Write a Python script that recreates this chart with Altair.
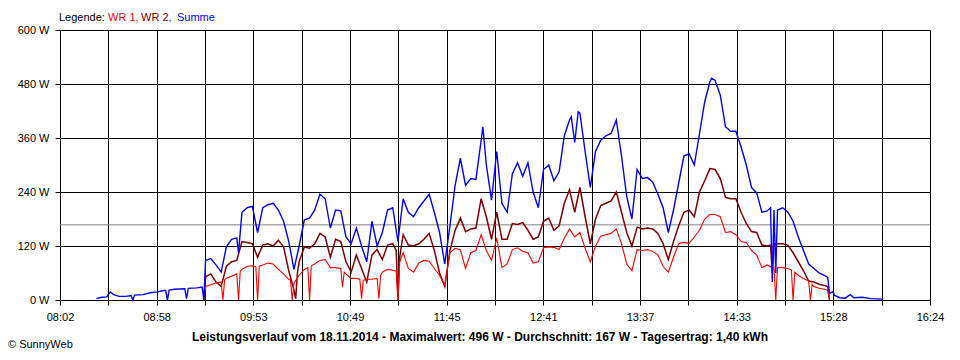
import altair as alt
import pandas as pd

# ---------------- data ----------------
summe_times = ["08:23","08:26","08:29","08:31","08:33","08:36","08:40","08:43","08:44","08:45",
    "08:50","08:54","08:58","09:02","09:03","09:04","09:05","09:08","09:14","09:15","09:16","09:21",
    "09:24","09:25","09:26","09:29","09:32","09:35","09:38","09:41","09:44","09:45","09:47","09:50",
    "09:53","09:56","09:59","10:02","10:05","10:08","10:11","10:14","10:17","10:20","10:23","10:26",
    "10:29","10:32","10:35","10:38","10:41","10:44","10:47","10:50","10:53","10:56","10:59","11:02",
    "11:05","11:08","11:11","11:14","11:17","11:20","11:23","11:26","11:29","11:32","11:35","11:38",
    "11:41","11:44","11:47","11:50","11:53","11:56","11:59","12:02","12:05","12:06","12:08","12:11",
    "12:14","12:17","12:20","12:23","12:26","12:29","12:32","12:35","12:38","12:41","12:44","12:47",
    "12:50","12:53","12:56","12:57","12:59","13:01","13:02","13:05","13:08","13:11","13:14","13:17",
    "13:20","13:23","13:26","13:29","13:32","13:35","13:38","13:41","13:44","13:47","13:50","13:53",
    "13:56","13:59","14:02","14:05","14:08","14:11","14:14","14:17","14:18","14:20","14:23","14:26",
    "14:29","14:32","14:35","14:38","14:41","14:44","14:47","14:50","14:52","14:53","14:54","14:55",
    "14:56","14:59","15:02","15:05","15:08","15:11","15:14","15:17","15:20","15:23","15:25","15:26",
    "15:28","15:29","15:32","15:35","15:38","15:40","15:45","15:50","15:57"]
summe_values = [3,6,7,18,12,8,8,10,0,11,
    12,16,18,21,21,0,22,24,25,3,26,27,
    29,0,88,92,78,62,118,135,138,105,195,205,
    208,150,205,212,215,200,175,130,68,120,178,182,
    200,235,225,160,200,198,140,125,160,120,85,175,
    120,150,200,205,130,225,195,185,205,220,235,195,
    150,80,165,255,315,255,270,268,355,385,300,222,
    330,215,195,280,305,275,305,240,205,290,300,265,
    285,365,400,407,350,418,415,330,250,330,355,365,
    370,400,320,230,180,290,270,272,262,235,205,150,
    200,260,320,325,300,370,440,485,493,488,455,385,
    375,375,340,300,250,238,195,198,205,40,200,60,
    200,205,195,175,140,110,80,70,60,55,50,15,
    18,10,5,4,12,5,6,3,2]

wr1_times = ["09:25","09:26","09:29","09:32","09:35","09:36","09:37","09:38","09:41","09:44",
    "09:45","09:46","09:47","09:50","09:53","09:55","09:56","09:57","09:59","10:02","10:05","10:08",
    "10:11","10:14","10:15","10:16","10:17","10:20","10:23","10:25","10:26","10:27","10:29","10:32",
    "10:35","10:38","10:41","10:44","10:45","10:46","10:47","10:50","10:53","10:55","10:56","10:57",
    "10:59","11:02","11:05","11:06","11:07","11:08","11:11","11:14","11:16","11:17","11:18","11:20",
    "11:23","11:26","11:29","11:32","11:35","11:38","11:41","11:44","11:47","11:50","11:53","11:56",
    "11:59","12:02","12:05","12:08","12:11","12:14","12:17","12:20","12:23","12:26","12:29","12:32",
    "12:35","12:38","12:41","12:44","12:47","12:50","12:53","12:56","12:59","13:02","13:05","13:08",
    "13:11","13:14","13:17","13:20","13:23","13:26","13:29","13:32","13:35","13:38","13:41","13:44",
    "13:47","13:50","13:53","13:56","13:59","14:02","14:05","14:08","14:11","14:14","14:17","14:20",
    "14:23","14:26","14:29","14:32","14:35","14:38","14:41","14:44","14:47","14:50","14:53","14:54",
    "14:55","14:56","14:59","15:02","15:04","15:05","15:06","15:08","15:11","15:14","15:15","15:16",
    "15:17","15:20","15:23","15:25","15:26"]
wr1_values = [0,30,34,38,40,0,45,48,53,58,
    0,64,68,75,76,74,0,75,78,82,80,68,
    58,46,44,0,38,55,68,72,0,76,80,88,
    90,72,72,70,29,62,58,48,48,46,3,44,
    46,46,48,3,55,62,68,66,64,0,85,105,
    70,62,82,88,86,70,55,32,105,115,112,70,
    105,110,145,110,88,138,72,80,112,116,108,105,
    82,85,116,118,117,112,137,158,140,150,115,85,
    120,142,145,148,158,125,80,65,112,110,112,108,
    100,75,62,95,125,128,126,140,155,180,190,190,
    185,150,152,145,130,128,110,100,72,78,72,72,
    0,72,72,70,67,0,62,55,48,42,0,35,
    30,26,24,22,0]

wr2_times = ["09:25","09:26","09:29","09:32","09:35","09:38","09:41","09:44","09:47","09:50",
    "09:53","09:56","09:59","10:02","10:05","10:08","10:11","10:14","10:17","10:18","10:19","10:20",
    "10:23","10:26","10:29","10:32","10:35","10:38","10:41","10:44","10:47","10:50","10:53","10:56",
    "10:59","11:02","11:05","11:08","11:11","11:14","11:16","11:17","11:18","11:20","11:23","11:26",
    "11:29","11:32","11:35","11:38","11:41","11:44","11:47","11:50","11:53","11:56","11:59","12:02",
    "12:05","12:08","12:11","12:14","12:17","12:20","12:23","12:26","12:29","12:32","12:35","12:38",
    "12:41","12:44","12:47","12:50","12:53","12:56","12:59","13:02","13:05","13:08","13:11","13:14",
    "13:17","13:20","13:23","13:26","13:29","13:32","13:35","13:38","13:41","13:44","13:47","13:50",
    "13:53","13:56","13:59","14:02","14:05","14:08","14:11","14:14","14:17","14:20","14:23","14:26",
    "14:29","14:32","14:35","14:38","14:41","14:44","14:47","14:50","14:52","14:53","14:54","14:56",
    "14:59","15:02","15:05","15:08","15:11","15:14","15:17","15:20","15:23","15:25","15:26"]
wr2_values = [0,52,58,40,30,75,85,88,130,128,
    125,95,122,125,120,133,118,65,22,3,60,85,
    118,115,125,148,140,95,135,130,85,62,100,70,
    40,100,112,90,122,125,110,5,95,145,122,120,
    125,135,148,110,60,30,110,155,182,152,158,160,
    225,185,135,195,135,135,170,168,172,155,135,140,
    175,182,155,165,215,245,195,250,185,125,180,210,
    215,220,240,195,150,120,162,158,160,158,148,125,
    90,130,165,195,200,185,240,265,292,290,270,228,
    225,225,195,170,152,150,122,120,122,60,125,125,
    125,122,105,85,65,42,40,35,32,30,0]

series_names = ["WR 1", "WR 2", "Summe"]
series_colors = ["#ff0000", "#800000", "#0000ff"]
y_ticks = [0, 120, 240, 360, 480, 600]
x_tick_labels = ["08:02", "08:58", "09:53", "10:49", "11:45", "12:41", "13:37", "14:33", "15:28", "16:24"]
average_w = 167
legend_title = "Legende:"
chart_title = ("Leistungsverlauf vom 18.11.2014 - Maximalwert: 496 W - Durchschnitt: 167 W"
               " - Tagesertrag: 1,40 kWh")
copyright_text = "\u00a9 SunnyWeb"

FONT = "Liberation Sans"


def to_min(s):
    p = s.split(":")
    return int(p[0]) * 60 + int(p[1])


def frame(times, values):
    return pd.DataFrame({"t": [to_min(s) for s in times], "w": values})


x0 = to_min(x_tick_labels[0])
x1 = to_min(x_tick_labels[-1])
n_grid = 2 * (len(x_tick_labels) - 1)
step = (x1 - x0) / n_grid
grid_vals = [x0 + k * step for k in range(n_grid + 1)]
lab_list = [x_tick_labels[k // 2] if k % 2 == 0 else "" for k in range(n_grid + 1)]
label_expr = "[" + ",".join("'%s'" % l for l in lab_list) + "][round((datum.value-%d)/%.6f)]" % (x0, step)

x_enc = alt.X("t:Q", scale=alt.Scale(domain=[x0, x1], nice=False, zero=False),
              axis=alt.Axis(values=grid_vals, labelExpr=label_expr, title=None, grid=True,
                            gridColor="#000000", gridOpacity=1, gridWidth=1,
                            tickColor="#000000", tickSize=5, tickWidth=1,
                            domainColor="#000000", domainWidth=1,
                            labelFont=FONT, labelFontSize=11, labelColor="#000000",
                            labelPadding=6, labelFlush=False, labelOverlap=False))
y_enc = alt.Y("w:Q", scale=alt.Scale(domain=[0, 600], nice=False),
              axis=alt.Axis(values=y_ticks, labelExpr="datum.value + ' W'", title=None, grid=True,
                            gridColor="#000000", gridOpacity=1, gridWidth=1,
                            tickColor="#000000", tickSize=5, tickWidth=1,
                            domainColor="#000000", domainWidth=1,
                            labelFont=FONT, labelFontSize=11, labelColor="#000000",
                            labelPadding=6, labelFlush=False, labelOverlap=False))

avg_rule = alt.Chart(pd.DataFrame({"w": [average_w]})).mark_rule(
    color="#808080", strokeWidth=1).encode(y=y_enc)

wr2_line = alt.Chart(frame(wr2_times, wr2_values)).mark_line(
    color=series_colors[1], strokeWidth=1.5).encode(x=x_enc, y=y_enc)
wr1_line = alt.Chart(frame(wr1_times, wr1_values)).mark_line(
    color=series_colors[0], strokeWidth=1.1).encode(x=x_enc, y=y_enc)
sum_line = alt.Chart(frame(summe_times, summe_values)).mark_line(
    color=series_colors[2], strokeWidth=1.4).encode(x=x_enc, y=y_enc)


def label(text, x, y, color="#000000", bold=False, align="left", size=11):
    return alt.Chart(pd.DataFrame({"a": [0]})).mark_text(
        text=text, align=align, baseline="alphabetic", font=FONT, fontSize=size,
        fontWeight="bold" if bold else "normal", color=color
    ).encode(x=alt.value(x), y=alt.value(y))


legend_layers = [
    label(legend_title, -1, -9),
    label(series_names[0] + ",", 48, -9, series_colors[0]),
    label(series_names[1] + ",", 81, -9, series_colors[1]),
    label(series_names[2], 117, -9, series_colors[2]),
]
title_layer = label(chart_title, 420, 311, bold=True, align="center", size=12)
copy_layer = label(copyright_text, -52, 318)

chart = alt.layer(avg_rule, wr2_line, wr1_line, sum_line, *legend_layers, title_layer, copy_layer).properties(
    width=870, height=270, autosize="none",
    padding={"left": 52, "top": 22, "right": 22, "bottom": 52},
    background="#ffffff",
).configure_view(stroke=None)

chart.save("out.html", embed_options={"renderer": "svg", "actions": False})
